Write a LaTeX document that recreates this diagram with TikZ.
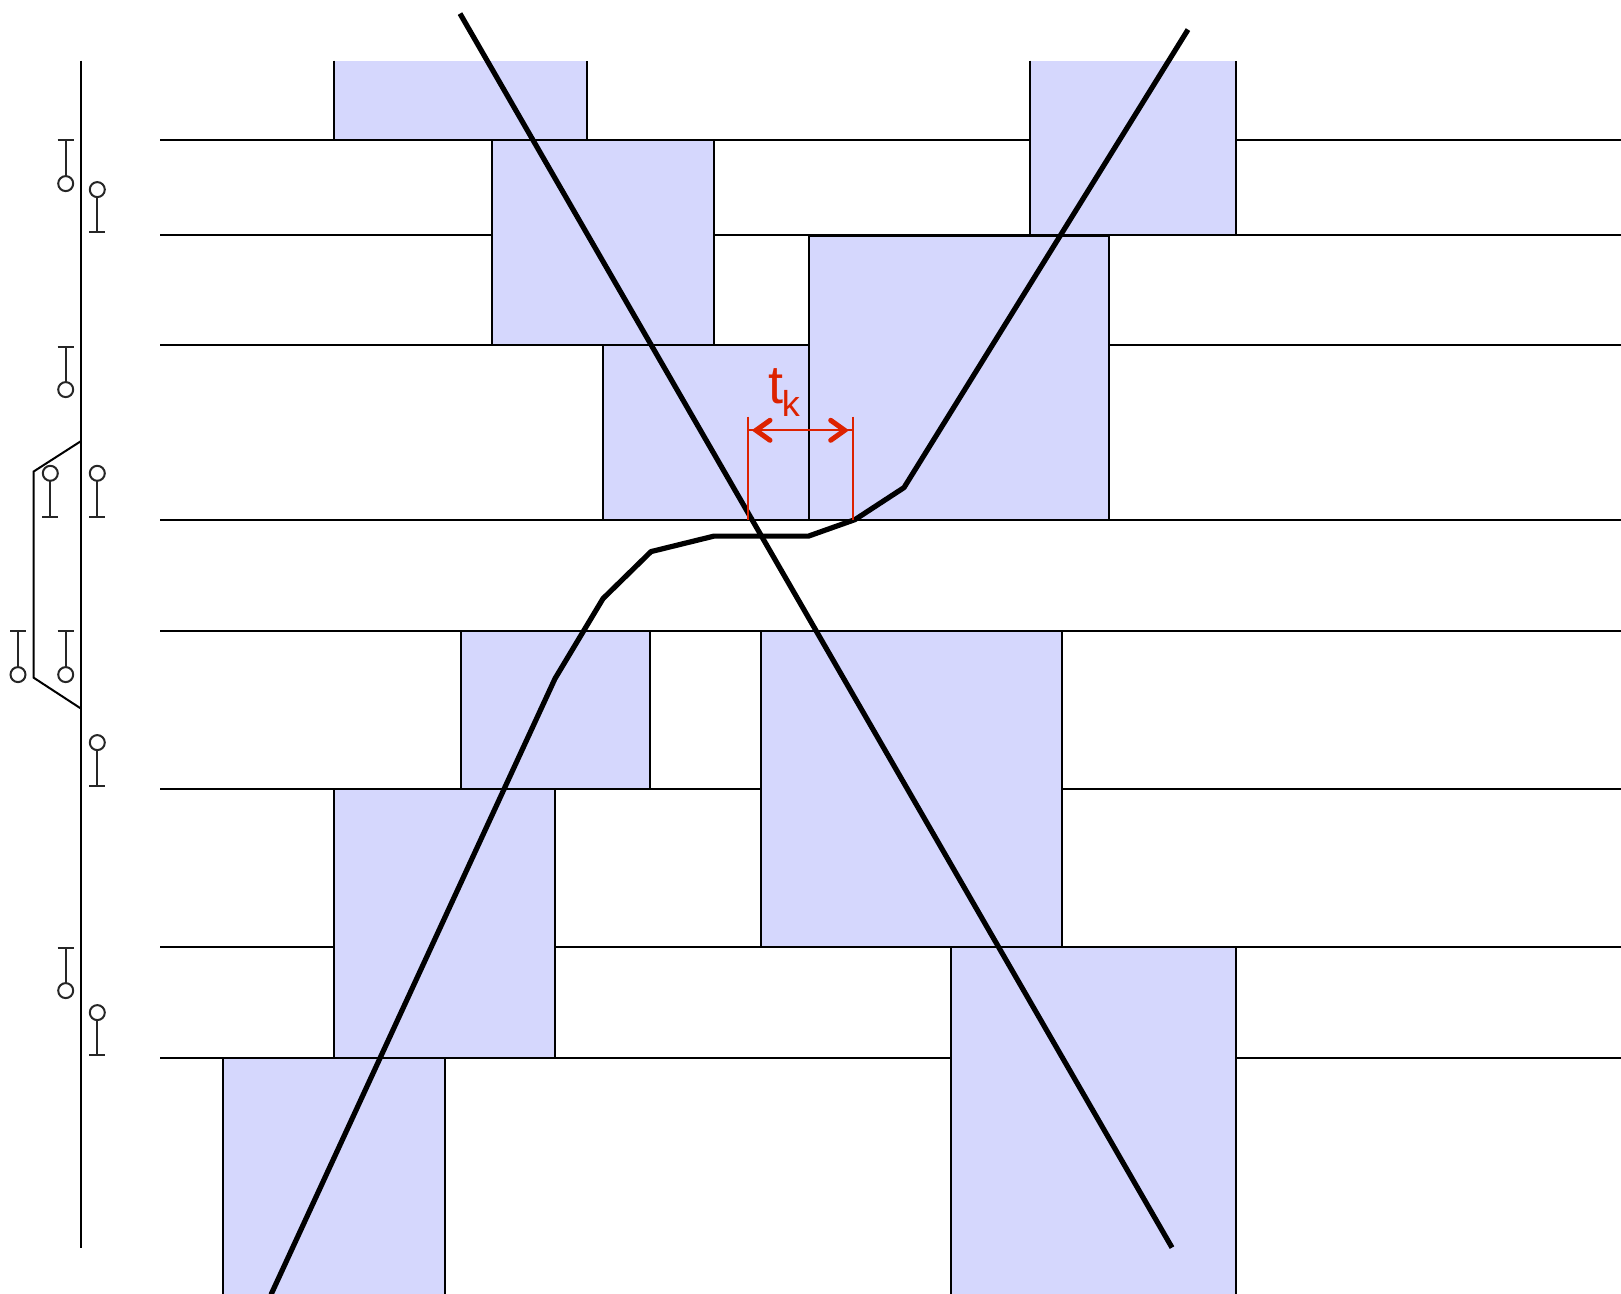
\documentclass[tikz,border=0pt]{standalone}
\usepackage{fontspec}
\setmainfont{Liberation Sans}
\definecolor{boxfill}{HTML}{D5D7FD}
\definecolor{redmark}{HTML}{DD2200}
\tikzset{
  px/.style={x=0.5pt,y=-0.5pt},
  rail/.style={black,line width=1pt},
  slot/.style={draw=black,fill=boxfill,line width=1pt},
  openslot/.style={fill=boxfill},
  traj/.style={black,line width=2.6pt,line join=round},
  stem/.style={black!85,line width=1pt},
  lamp/.style={black!85,line width=1pt,fill=white},
  redline/.style={redmark,line width=0.9pt},
  redbarb/.style={redmark,line width=2.5pt,line cap=round,line join=miter}
}
\begin{document}
\begin{tikzpicture}[px]
\useasboundingbox (0,-0.6) rectangle (1621,1293.4);
% horizontal lines
\foreach \y in {139,234,344.5,519,630,788,946,1057}
  \draw[rail] (160,\y) -- (1621,\y);
% blocks cut off at the top of the chart
\foreach \a/\b/\c/\d in {334/60/587/139, 1030/60/1236/234}{
  \fill[openslot] (\a,\b) rectangle (\c,\d);
  \draw[rail] (\a,\b) -- (\a,\d) -- (\c,\d) -- (\c,\b);
}
% blocks
\foreach \a/\b/\c/\d in {492/139/713.5/344.5, 603/344.5/808.5/519,
  460.5/630/650/788, 761/630/1062/946, 334/788/555/1057,
  808.5/235/1109/519.5, 223/1057/445/1294, 951/946/1236/1294}
  \draw[slot] (\a,\b) rectangle (\c,\d);
% mast
\draw[rail] (81,60) -- (81,1247);
\draw[rail,line join=miter] (81,440.5) -- (33.5,471) -- (33.5,677) -- (81,708);
% signals pointing up (bar at top, lamp below)
\foreach \x/\b/\c in {65.7/139.5/183, 65.7/346/389, 65.7/630/674, 18/630/674, 65.7/947/990}{
  \draw[stem] (\x,\b) -- (\x,\c);
  \draw[stem] (\x-8,\b) -- (\x+8,\b);
  \draw[lamp] (\x,\c) circle (7.5);
}
% signals pointing down (lamp on top, bar below)
\foreach \x/\c/\b in {97.3/189/231, 97.3/472.7/516.7, 50.3/472.7/516.7, 97.3/742/785.7, 97.3/1012/1054.5}{
  \draw[stem] (\x,\b) -- (\x,\c);
  \draw[stem] (\x-8,\b) -- (\x+8,\b);
  \draw[lamp] (\x,\c) circle (7.5);
}
% trajectories
\draw[traj] (460,13) -- (1172,1247);
\draw[traj] (271,1294) -- (555,678) -- (603,598) -- (651,551) -- (714,535.5) -- (808.5,535.5) -- (855,519) -- (904,487) -- (1188,29);
% headway
\coordinate (hl) at (748,429.7);
\coordinate (hr) at (852.7,429.7);
\draw[redline] (748,416) -- (748,519);
\draw[redline] (852.7,416) -- (852.7,519);
\draw[redline] (hl) -- (hr);
\draw[redbarb] ([shift={(22,-10)}]hl) -- ([xshift=4]hl) -- ([shift={(22,10)}]hl);
\draw[redbarb] ([shift={(-22,-10)}]hr) -- ([xshift=-4]hr) -- ([shift={(-22,10)}]hr);
\node[redmark,inner sep=0pt,anchor=base west] (tk) at (768,403)
  {\fontsize{27}{30}\selectfont t\kern-0.8pt\raisebox{-6.5pt}{\fontsize{18}{20}\selectfont k}};
\end{tikzpicture}
\end{document}
